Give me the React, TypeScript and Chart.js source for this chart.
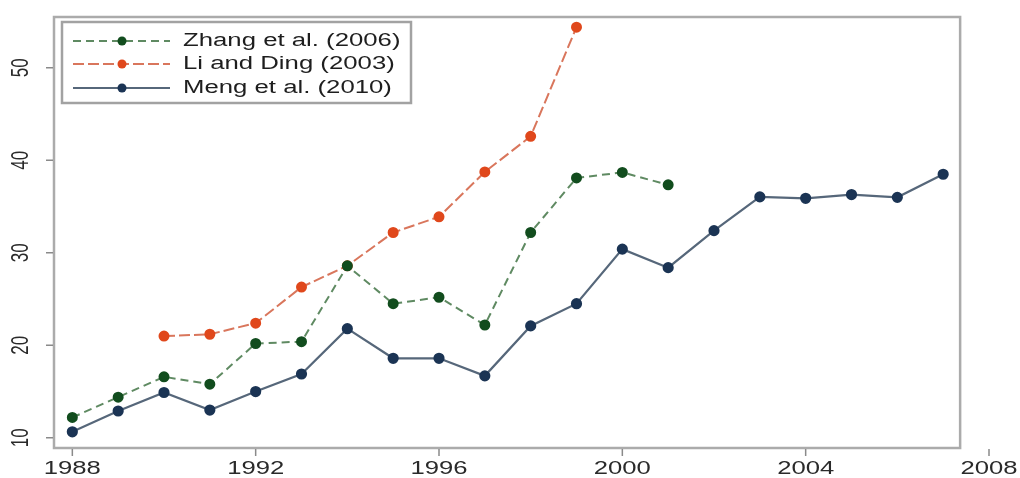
import React, { useEffect, useRef } from "react";
import { Chart, registerables } from "chart.js";

Chart.register(...registerables);

// Series: years and values
const zhangYears = [1988, 1989, 1990, 1991, 1992, 1993, 1994, 1995, 1996, 1997, 1998, 1999, 2000, 2001];
const zhangValues = [12.2, 14.4, 16.6, 15.8, 20.2, 20.4, 28.6, 24.5, 25.2, 22.2, 32.2, 38.1, 38.7, 37.35];

const liYears = [1990, 1991, 1992, 1993, 1994, 1995, 1996, 1997, 1998, 1999];
const liValues = [21.0, 21.2, 22.4, 26.3, 28.6, 32.2, 33.9, 38.75, 42.6, 54.4];

const mengYears = [1988, 1989, 1990, 1991, 1992, 1993, 1994, 1995, 1996, 1997, 1998, 1999, 2000, 2001, 2002, 2003, 2004, 2005, 2006, 2007];
const mengValues = [10.65, 12.9, 14.9, 13.0, 15.0, 16.9, 21.8, 18.6, 18.6, 16.7, 22.1, 24.5, 30.4, 28.4, 32.4, 36.05, 35.9, 36.3, 36.0, 38.5];

const seriesLabels = ["Zhang et al. (2006)", "Li and Ding (2003)", "Meng et al. (2010)"];

// Axis ticks
const xTicks = [1988, 1992, 1996, 2000, 2004, 2008];
const yTicks = [10, 20, 30, 40, 50];

const FONT = '"Liberation Sans", Arial, sans-serif';
const X_PLOT_END = 2007.37;

const toPoints = (xs: number[], ys: number[]) => xs.map((x, i) => ({ x, y: ys[i] }));

function stretchedText(
  ctx: CanvasRenderingContext2D,
  text: string,
  x: number,
  y: number,
  sx: number,
  align: CanvasTextAlign,
  rotate = 0
) {
  ctx.save();
  ctx.translate(x, y);
  ctx.scale(sx, 1);
  if (rotate) ctx.rotate(rotate);
  ctx.textAlign = align;
  ctx.textBaseline = "middle";
  ctx.fillText(text, 0, 0);
  ctx.restore();
}

const framePlugin = {
  id: "frameAndAxes",
  beforeDatasetsDraw(chart: any) {
    const { ctx, chartArea, scales } = chart;
    const xs = scales.x;
    const ys = scales.y;
    const left = chartArea.left;
    const top = chartArea.top;
    const bottom = chartArea.bottom;
    const right = xs.getPixelForValue(X_PLOT_END);

    ctx.save();
    // plot region border
    ctx.strokeStyle = "#ababab";
    ctx.lineWidth = 2.5;
    ctx.strokeRect(left, top, right - left, bottom - top);

    // tick marks
    ctx.strokeStyle = "#8a8a8a";
    ctx.lineWidth = 1.5;
    ctx.beginPath();
    yTicks.forEach((v) => {
      const py = ys.getPixelForValue(v);
      ctx.moveTo(left - 8, py);
      ctx.lineTo(left - 1, py);
    });
    xTicks.forEach((v) => {
      const px = xs.getPixelForValue(v);
      ctx.moveTo(px, bottom + 1);
      ctx.lineTo(px, bottom + 8);
    });
    ctx.stroke();

    // tick labels
    ctx.fillStyle = "#2a2a2a";
    ctx.font = `17px ${FONT}`;
    yTicks.forEach((v) => {
      const py = ys.getPixelForValue(v);
      stretchedText(ctx, String(v), 22, py, 1.38, "center", -Math.PI / 2);
    });
    ctx.font = `19px ${FONT}`;
    xTicks.forEach((v) => {
      const px = xs.getPixelForValue(v);
      stretchedText(ctx, String(v), px, 469, 1.35, "center");
    });
    ctx.restore();
  },
  afterDatasetsDraw(chart: any) {
    const { ctx } = chart;
    const boxL = 62;
    const boxT = 22;
    const boxR = 411;
    const boxB = 103;
    ctx.save();
    ctx.fillStyle = "#ffffff";
    ctx.fillRect(boxL, boxT, boxR - boxL, boxB - boxT);
    ctx.strokeStyle = "#a2a2a2";
    ctx.lineWidth = 2.5;
    ctx.strokeRect(boxL, boxT, boxR - boxL, boxB - boxT);

    const rows = [41, 64, 88];
    chart.data.datasets.forEach((ds: any, i: number) => {
      const y = rows[i];
      ctx.save();
      ctx.strokeStyle = ds.borderColor;
      ctx.lineWidth = ds.borderWidth;
      ctx.setLineDash(ds.borderDash || []);
      ctx.beginPath();
      ctx.moveTo(73, y);
      ctx.lineTo(170, y);
      ctx.stroke();
      ctx.setLineDash([]);
      ctx.fillStyle = ds.pointBackgroundColor;
      ctx.beginPath();
      ctx.arc(122, y, 4.5, 0, Math.PI * 2);
      ctx.fill();
      ctx.restore();

      ctx.fillStyle = "#1e1e1e";
      ctx.font = `18px ${FONT}`;
      stretchedText(ctx, ds.label, 183, y, 1.43, "left");
    });
    ctx.restore();
  },
};

export default function App() {
  const canvasRef = useRef<HTMLCanvasElement | null>(null);

  useEffect(() => {
    document.body.style.margin = "0";
    const canvas = canvasRef.current;
    if (!canvas) return;
    const chart = new Chart(canvas, {
      type: "line",
      data: {
        datasets: [
          {
            label: seriesLabels[0],
            data: toPoints(zhangYears, zhangValues),
            borderColor: "#5f8a62",
            borderWidth: 2,
            borderDash: [8, 5],
            pointBackgroundColor: "#124d1e",
            pointBorderColor: "#124d1e",
            pointRadius: 4.5,
            pointStyle: "circle",
          },
          {
            label: seriesLabels[1],
            data: toPoints(liYears, liValues),
            borderColor: "#d9765c",
            borderWidth: 2,
            borderDash: [11, 4],
            pointBackgroundColor: "#e0481c",
            pointBorderColor: "#e0481c",
            pointRadius: 4.5,
            pointStyle: "circle",
          },
          {
            label: seriesLabels[2],
            data: toPoints(mengYears, mengValues),
            borderColor: "#56677a",
            borderWidth: 2.2,
            pointBackgroundColor: "#1b3454",
            pointBorderColor: "#1b3454",
            pointRadius: 4.5,
            pointStyle: "circle",
          },
        ],
      },
      options: {
        animation: false,
        responsive: false,
        maintainAspectRatio: false,
        layout: { padding: { left: 54, top: 17, right: 31, bottom: 30 } },
        plugins: { legend: { display: false }, tooltip: { enabled: false } },
        elements: { line: { tension: 0 } },
        scales: {
          x: { type: "linear", min: 1987.6, max: 2008, display: false },
          y: { type: "linear", min: 8.9, max: 55.5, display: false },
        },
      },
      plugins: [framePlugin],
    });
    return () => chart.destroy();
  }, []);

  return (
    <div style={{ position: "absolute", left: 0, top: 0, width: 1020, height: 478, background: "#ffffff" }}>
      <canvas ref={canvasRef} width={1020} height={478} style={{ display: "block" }} />
    </div>
  );
}
